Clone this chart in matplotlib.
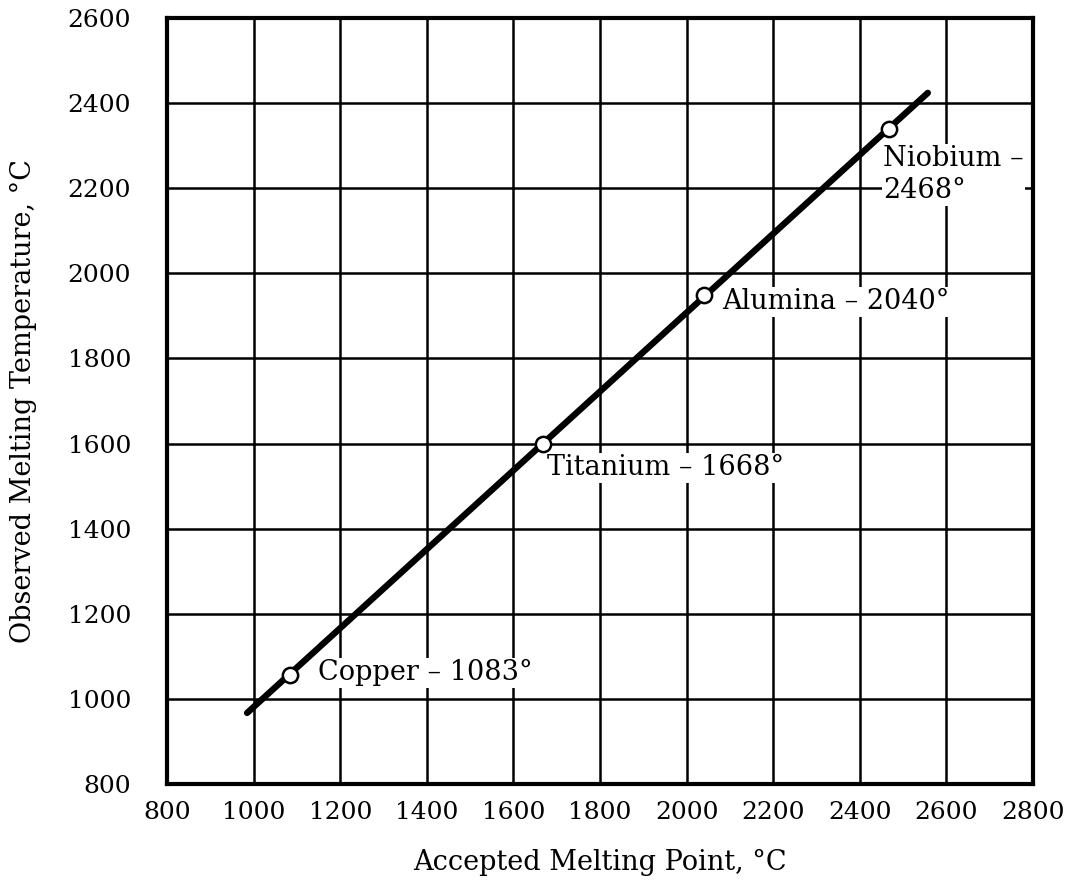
import matplotlib
matplotlib.use("Agg")
import matplotlib.pyplot as plt

# Data
materials = ["Copper", "Titanium", "Alumina", "Niobium"]
accepted = [1083, 1668, 2040, 2468]
observed = [1055, 1600, 1948, 2338]
fit_x = [985, 2557]
fit_y = [967, 2424]
labels = ["Copper \u2013 1083\u00b0", "Titanium \u2013 1668\u00b0",
          "Alumina \u2013 2040\u00b0", "Niobium \u2013\n2468\u00b0"]
label_x = [1149, 1678, 2082, 2454]
label_y = [1061, 1543, 1933, 2232]
xticks = list(range(800, 2801, 200))
yticks = list(range(800, 2601, 200))

plt.rcParams['font.family'] = ['DejaVu Serif']

fig = plt.figure(figsize=(10.65, 8.9), dpi=100)
ax = fig.add_axes([0.1568, 0.1191, 0.970 - 0.1568, 0.9798 - 0.1191])
ax.set_xlim(800, 2800)
ax.set_ylim(800, 2600)
ax.set_xticks(xticks)
ax.set_yticks(yticks)
ax.tick_params(length=0, labelsize=18)
ax.tick_params(axis='x', pad=12)
ax.tick_params(axis='y', pad=26)
ax.grid(True, color='black', linewidth=1.8, zorder=1)
for s in ax.spines.values():
    s.set_linewidth(3)
    s.set_zorder(5)

for lx, ly, t in zip(label_x, label_y, labels):
    ax.text(lx, ly, t, fontsize=19.5, ha='left', va='center', zorder=3,
            linespacing=1.25,
            bbox=dict(facecolor='white', edgecolor='none', pad=1))

ax.plot(fit_x, fit_y, color='black', linewidth=4.6, solid_capstyle='round', zorder=4)
ax.plot(accepted, observed, 'o', markersize=11, markerfacecolor='white',
        markeredgecolor='black', markeredgewidth=1.8, zorder=6)

ax.set_xlabel("Accepted Melting Point, \u00b0C", fontsize=19.5, labelpad=18)
ax.set_ylabel("Observed Melting Temperature, \u00b0C", fontsize=19.5, labelpad=22)

fig.savefig("out.png", dpi=100)
